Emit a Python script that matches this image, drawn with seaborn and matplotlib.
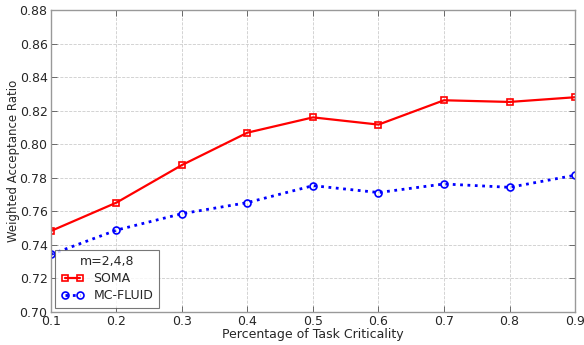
import matplotlib
matplotlib.use("Agg")
import matplotlib.pyplot as plt
import seaborn as sns
import pandas as pd

criticality = [0.1, 0.2, 0.3, 0.4, 0.5, 0.6, 0.7, 0.8, 0.9]
soma = [0.7483, 0.7652, 0.7876, 0.8069, 0.8160, 0.8117, 0.8262, 0.8252, 0.8280]
mc_fluid = [0.7343, 0.7488, 0.7586, 0.7652, 0.7753, 0.7712, 0.7763, 0.7743, 0.7815]
xticks = [0.1, 0.2, 0.3, 0.4, 0.5, 0.6, 0.7, 0.8, 0.9]
yticks = [0.70, 0.72, 0.74, 0.76, 0.78, 0.80, 0.82, 0.84, 0.86, 0.88]

sns.set_style("white")
plt.rcParams["font.family"] = ["DejaVu Sans"]

df = pd.DataFrame({"x": criticality * 2,
                   "y": soma + mc_fluid,
                   "method": ["SOMA"] * len(soma) + ["MC-FLUID"] * len(mc_fluid)})

fig = plt.figure(figsize=(5.84, 3.45), dpi=100)
ax = fig.add_axes([0.0873, 0.0957, 0.8973, 0.8753])

styles = {"SOMA": dict(color="red", linestyle="-", marker="s", lw=1.6),
          "MC-FLUID": dict(color="blue", linestyle=":", marker="o", lw=2.0)}
for name in ["SOMA", "MC-FLUID"]:
    sub = df[df["method"] == name]
    st = styles[name]
    sns.lineplot(data=sub, x="x", y="y", ax=ax, color=st["color"],
                 linestyle=st["linestyle"], marker=st["marker"],
                 markersize=5, markerfacecolor="none",
                 markeredgecolor=st["color"], markeredgewidth=1.2,
                 linewidth=st["lw"], label=name)

ax.set_xlim(0.1, 0.9)
ax.set_ylim(0.70, 0.88)
ax.set_xticks(xticks)
ax.set_yticks(yticks)
ax.set_xticklabels([f"{v:.1f}" for v in xticks], fontsize=9)
ax.set_yticklabels([f"{v:.2f}" for v in yticks], fontsize=9)
ax.tick_params(direction="in", length=4, width=0.6, color="#555555",
               top=True, right=True, bottom=True, left=True, pad=2.5)
ax.grid(True, color="#cccccc", linestyle="--", linewidth=0.6)
for s in ax.spines.values():
    s.set_color("#999999")
    s.set_linewidth(1.0)

ax.set_xlabel("Percentage of Task Criticality", fontsize=9, labelpad=0)
ax.set_ylabel("Weighted Acceptance Ratio", fontsize=8.5)
ax.yaxis.set_label_coords(-0.06, 0.5)

leg = ax.legend(title="m=2,4,8", loc="lower left", fontsize=9, title_fontsize=9,
                fancybox=False, frameon=True, borderaxespad=0.35,
                numpoints=2, handlelength=1.8, handletextpad=0.8,
                labelspacing=0.3, borderpad=0.45)
leg.get_frame().set_edgecolor("#555555")
leg.get_frame().set_linewidth(0.8)

fig.savefig("out.png", dpi=100)
